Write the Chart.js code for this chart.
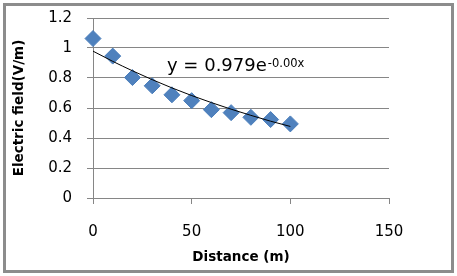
<!DOCTYPE html>
<html>
<head>
<meta charset="utf-8">
<script src="https://cdn.jsdelivr.net/npm/chart.js@4/dist/chart.umd.min.js"></script>
<style>
  html, body { margin: 0; padding: 0; background: #fff; }
  #frame {
    position: absolute; left: 3px; top: 3px; width: 451px; height: 270px;
    box-sizing: border-box; border: 3px solid #8c8c8c; pointer-events: none;
  }
  canvas { position: absolute; left: 0; top: 0; }
</style>
</head>
<body>
<canvas id="myChart" width="457" height="276"></canvas>
<div id="frame"></div>
<script>
// values
const distance = [0, 10, 20, 30, 40, 50, 60, 70, 80, 90, 100]
const field = [1.063, 0.946, 0.803, 0.748, 0.688, 0.649, 0.589, 0.569, 0.538, 0.523, 0.494]
const trendField = [0.979, 0.911, 0.848, 0.789, 0.734, 0.683, 0.636, 0.592, 0.551, 0.512, 0.477]
const xTicks = [0, 50, 100, 150]
const yTicks = [0, 0.2, 0.4, 0.6, 0.8, 1, 1.2]
const equationMain = "y = 0.979e"
const equationSup = "-0.00x"
const equationAt = { x: 37.5, y: 0.85 }

const FONT = "'DejaVu Sans', sans-serif"
const GRID = "#868686"

const equationLabel = {
  id: "equationLabel",
  afterDatasetsDraw(chart) {
    const { ctx, scales } = chart
    const px = scales.x.getPixelForValue(equationAt.x)
    const py = scales.y.getPixelForValue(equationAt.y)
    ctx.save()
    ctx.fillStyle = "#000"
    ctx.textBaseline = "alphabetic"
    ctx.textAlign = "left"
    ctx.font = "18px " + FONT
    ctx.fillText(equationMain, px, py)
    const w = ctx.measureText(equationMain).width
    ctx.font = "11.5px " + FONT
    ctx.fillText(equationSup, px + w + 1, py - 4)
    ctx.restore()
  },
}

const ctx = document.getElementById("myChart").getContext("2d")
new Chart(ctx, {
  type: "scatter",
  data: {
    datasets: [
      {
        label: "Electric field",
        data: distance.map((d, i) => ({ x: d, y: field[i] })),
        pointStyle: "rectRot",
        pointRadius: 8,
        pointHoverRadius: 8,
        backgroundColor: "#4f81bd",
        borderColor: "#4a7ebb",
        borderWidth: 1,
        clip: false,
        order: 2,
      },
      {
        label: "Trend",
        type: "line",
        data: distance.map((d, i) => ({ x: d, y: trendField[i] })),
        borderColor: "#000",
        borderWidth: 1,
        pointRadius: 0,
        cubicInterpolationMode: "monotone",
        fill: false,
        order: 1,
      },
    ],
  },
  options: {
    responsive: false,
    animation: false,
    devicePixelRatio: 1,
    layout: { padding: { left: 0, top: 18, right: 68, bottom: 0 } },
    plugins: { legend: { display: false }, tooltip: { enabled: false } },
    scales: {
      x: {
        type: "linear",
        min: 0,
        max: 150,
        afterBuildTicks: (scale) => { scale.ticks = xTicks.map((v) => ({ value: v })) },
        afterFit: (scale) => { scale.height = 78 },
        grid: { drawOnChartArea: false, drawTicks: true, tickLength: 6, color: GRID },
        border: { display: true, color: GRID },
        ticks: { padding: 19, color: "#000", font: { family: FONT, size: 15 } },
        title: {
          display: true,
          text: "Distance (m)",
          color: "#000",
          font: { family: FONT, size: 13.5, weight: "bold" },
          padding: { top: 0, bottom: 10 },
        },
      },
      y: {
        type: "linear",
        min: 0,
        max: 1.2,
        afterBuildTicks: (scale) => { scale.ticks = yTicks.map((v) => ({ value: v })) },
        afterFit: (scale) => {
          scale.width = 93
          scale.paddingTop = 0
          scale.paddingBottom = 0
        },
        grid: { color: GRID, drawTicks: true, tickLength: 6 },
        border: { display: true, color: GRID },
        ticks: {
          padding: 15,
          color: "#000",
          font: { family: FONT, size: 15 },
          callback: (v) => String(+v.toFixed(1)),
        },
        title: {
          display: true,
          text: "Electric field(V/m)",
          color: "#000",
          font: { family: FONT, size: 13.5, weight: "bold" },
          padding: { top: 11, bottom: 0 },
        },
      },
    },
  },
  plugins: [equationLabel],
})
</script>
</body>
</html>
